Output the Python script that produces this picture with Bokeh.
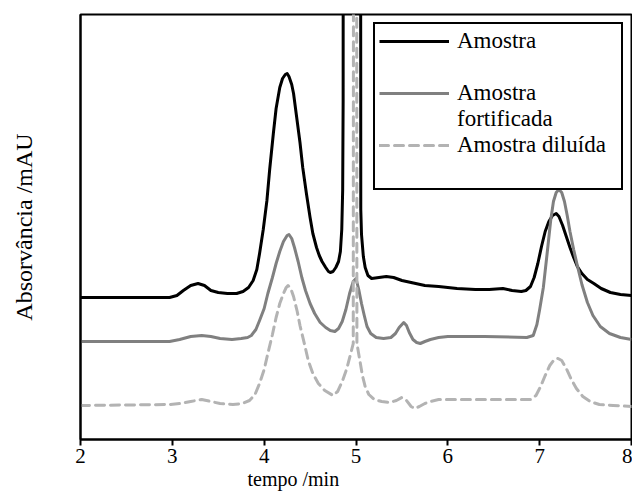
from bokeh.plotting import figure
from bokeh.models import Legend, LegendItem, FixedTicker, Title
from bokeh.embed import file_html
from bokeh.resources import INLINE

# ---- data (y in arbitrary absorbance units) ----
amostra_t = [2.0, 2.5, 2.97, 3.05, 3.12, 3.2, 3.28, 3.35, 3.42, 3.5, 3.6, 3.7, 3.77, 3.83,
             3.88, 3.92, 3.95, 3.99, 4.03, 4.06, 4.10, 4.13, 4.17, 4.20, 4.23, 4.25, 4.27,
             4.30, 4.32, 4.35, 4.39, 4.42, 4.46, 4.50, 4.53, 4.57, 4.60, 4.63, 4.67, 4.70,
             4.72, 4.75, 4.78, 4.81, 4.83, 4.845, 4.855, 4.86, 4.862, 5.048, 5.052, 5.06,
             5.08, 5.10, 5.13, 5.17, 5.25, 5.33, 5.41, 5.5, 5.6, 5.75, 5.9, 6.1, 6.3, 6.45,
             6.6, 6.7, 6.8, 6.85, 6.9, 6.94, 6.98, 7.02, 7.06, 7.1, 7.14, 7.18, 7.21, 7.25,
             7.29, 7.33, 7.37, 7.41, 7.46, 7.52, 7.59, 7.67, 7.77, 7.88, 8.0]
amostra_y = [142, 142, 142, 144, 149, 154, 156, 154, 149, 147, 146, 146, 148, 152,
             159, 170, 186, 210, 239, 270, 306, 331, 352, 361, 365, 366, 363,
             355, 346, 325, 297, 272, 246, 222, 206, 192, 184, 178, 172, 168,
             167, 168, 172, 178, 188, 210, 250, 339, 1000, 1000, 230, 205,
             183, 172, 164, 161, 162, 163, 162, 159, 157, 154, 153, 151, 150, 150,
             151, 149, 148, 149, 153, 162, 176, 193, 208, 218, 224, 226, 223, 214,
             203, 192, 182, 173, 166, 160, 156, 151, 147, 145, 144]

fort_t = [2.0, 2.97, 3.08, 3.2, 3.32, 3.42, 3.52, 3.65, 3.75, 3.82, 3.86, 3.91, 3.95, 4.0,
          4.04, 4.09, 4.13, 4.17, 4.21, 4.25, 4.27, 4.30, 4.33, 4.37, 4.41, 4.45, 4.50,
          4.55, 4.61, 4.67, 4.72, 4.77, 4.81, 4.85, 4.89, 4.93, 4.97, 5.0, 5.03, 5.06,
          5.09, 5.12, 5.16, 5.22, 5.30, 5.38, 5.43, 5.47, 5.52, 5.55, 5.58, 5.62, 5.66,
          5.70, 5.75, 5.81, 5.9, 6.0, 6.4, 6.86, 6.93, 6.97, 7.0, 7.04, 7.08, 7.12, 7.15,
          7.18, 7.21, 7.24, 7.27, 7.30, 7.33, 7.37, 7.41, 7.46, 7.52, 7.58, 7.66, 7.76,
          7.88, 8.0]
fort_y = [98, 98, 100, 103, 104, 103, 101, 100, 101, 102, 104, 110, 119, 131,
          146, 162, 176, 188, 198, 204, 205, 201, 192, 178, 162, 149, 136,
          126, 117, 112, 109, 108, 111, 118, 130, 146, 158, 161, 150, 136,
          124, 113, 106, 102, 101, 102, 106, 112, 117, 114, 107, 100, 97,
          96, 98, 100, 102, 103, 103, 102, 104, 115, 130, 152, 185, 219, 238,
          247, 250, 247, 238, 224, 208, 190, 174, 155, 137, 124, 113, 106,
          102, 100]

dil_t = [2.0, 2.97, 3.08, 3.2, 3.32, 3.42, 3.52, 3.66, 3.76, 3.84, 3.9, 3.95, 4.0, 4.04,
         4.09, 4.13, 4.17, 4.21, 4.24, 4.26, 4.29, 4.32, 4.36, 4.39, 4.44, 4.48, 4.53,
         4.59, 4.66, 4.75, 4.80, 4.85, 4.90, 4.94, 4.97, 4.99, 5.01, 5.04, 5.07, 5.10,
         5.14, 5.2, 5.28, 5.37, 5.44, 5.5, 5.55, 5.6, 5.64, 5.69, 5.75, 5.81, 5.9, 6.0,
         6.4, 6.9, 6.96, 7.01, 7.06, 7.11, 7.16, 7.2, 7.24, 7.29, 7.34, 7.4, 7.47, 7.55,
         7.65, 7.8, 8.0]
dil_y = [34, 35, 36, 38, 40, 38, 36, 35, 36, 39, 45, 56, 70, 86,
         105, 122, 136, 146, 152, 154, 151, 143, 128, 114, 95, 79, 66,
         56, 49, 44, 48, 58, 71, 85, 96, 3000, 96, 80, 64, 53,
         45, 40, 38, 37, 39, 42, 39, 33, 31, 33, 36, 38, 40, 40,
         40, 40, 44, 53, 64, 74, 80, 81, 79, 71, 61, 51, 43, 38,
         35, 34, 33]

x_ticks = [2, 3, 4, 5, 6, 7, 8]
labels = ["Amostra", "Amostra fortificada", "Amostra diluída"]

FONT = "Liberation Serif"

p = figure(width=632, height=494, x_range=(2, 8), y_range=(0, 425),
           output_backend="svg", toolbar_location=None, title=None,
           min_border_left=80, min_border_right=1, min_border_top=14, min_border_bottom=55)

p.grid.visible = False
p.outline_line_color = "black"
p.outline_line_width = 2
p.outline_line_alpha = 1
p.background_fill_color = "white"
p.border_fill_color = "white"

r1 = p.line(amostra_t, amostra_y, line_color="black", line_width=3, line_join="round")
r2 = p.line(fort_t, fort_y, line_color="#808080", line_width=3, line_join="round")
r3 = p.line(dil_t, dil_y, line_color="#b3b3b3", line_width=3, line_dash="9 6",
            line_cap="round", line_join="round")
blank = p.line(x=[], y=[], line_alpha=0)

# x axis
xa = p.xaxis[0]
xa.ticker = FixedTicker(ticks=x_ticks)
xa.minor_tick_line_color = None
xa.major_tick_in = 0
xa.major_tick_out = 6
xa.major_tick_line_width = 2
xa.axis_line_width = 2
xa.major_label_text_font = FONT
xa.major_label_text_font_size = "21px"
xa.major_label_text_font_style = "normal"
xa.major_label_text_color = "black"
xa.major_label_standoff = 3

# y axis
ya = p.yaxis[0]
ya.ticker = FixedTicker(ticks=[])
ya.minor_tick_line_color = None
ya.major_tick_in = 0
ya.major_tick_out = 0
ya.axis_line_width = 2
ya.axis_label = "Absorvância /mAU"
ya.axis_label_text_font = FONT
ya.axis_label_text_font_size = "24px"
ya.axis_label_text_font_style = "normal"
ya.axis_label_text_color = "black"
ya.axis_label_standoff = 44

xt = Title(text="tempo /min", align="left", offset=167, text_font=FONT,
           text_font_size="20px", text_font_style="normal", text_color="black", standoff=0)
p.add_layout(xt, "below")

legend = Legend(items=[
    LegendItem(label=labels[0], renderers=[r1]),
    LegendItem(label=" ", renderers=[blank]),
    LegendItem(label="Amostra", renderers=[r2]),
    LegendItem(label="fortificada", renderers=[blank]),
    LegendItem(label=labels[2], renderers=[r3]),
    LegendItem(label=" ", renderers=[blank]),
], location="top_right")
legend.label_text_font = FONT
legend.label_text_font_size = "23px"
legend.label_text_font_style = "normal"
legend.label_text_color = "black"
legend.glyph_width = 70
legend.glyph_height = 26
legend.label_height = 26
legend.label_standoff = 8
legend.label_width = 160
legend.spacing = 0
legend.padding = 4
legend.margin = 8
legend.border_line_color = "black"
legend.border_line_width = 2
legend.border_line_alpha = 1
legend.background_fill_alpha = 1
p.add_layout(legend, "center")

open("out.html", "w").write(file_html(p, INLINE))
